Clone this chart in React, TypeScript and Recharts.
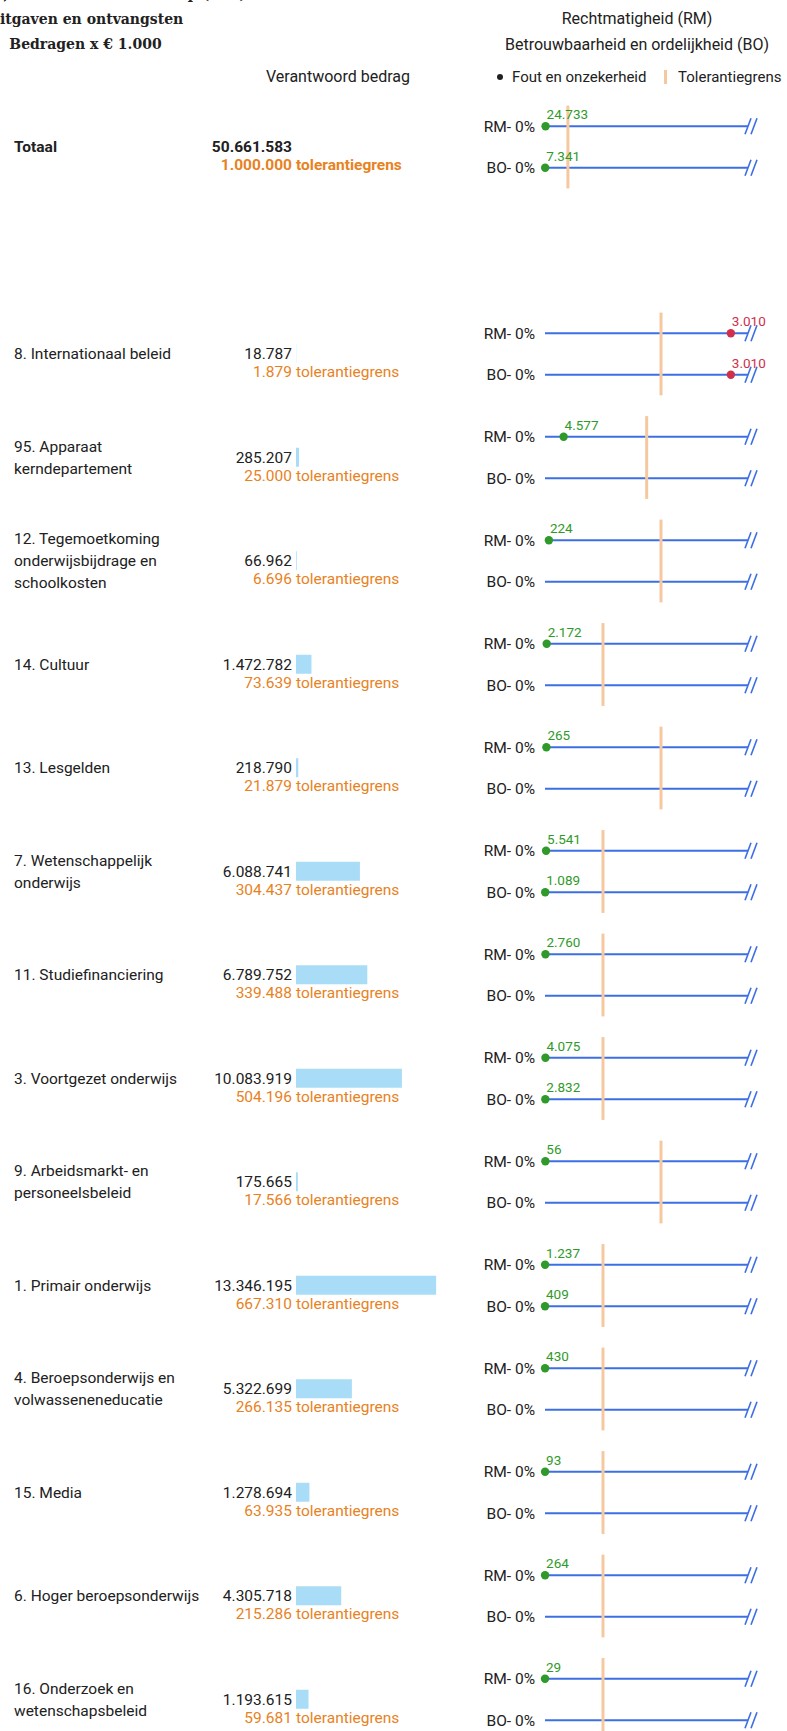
import React from "react";
import { Bar, ComposedChart, ReferenceLine, Scatter, XAxis, YAxis } from "recharts";

// slot 1 is the empty gap between the total and the articles
const labels = [
  "Totaal",
  "",
  "8. Internationaal beleid",
  "95. Apparaat|kerndepartement",
  "12. Tegemoetkoming|onderwijsbijdrage en|schoolkosten",
  "14. Cultuur",
  "13. Lesgelden",
  "7. Wetenschappelijk|onderwijs",
  "11. Studiefinanciering",
  "3. Voortgezet onderwijs",
  "9. Arbeidsmarkt- en|personeelsbeleid",
  "1. Primair onderwijs",
  "4. Beroepsonderwijs en|volwasseneneducatie",
  "15. Media",
  "6. Hoger beroepsonderwijs",
  "16. Onderzoek en|wetenschapsbeleid",
];
const amounts = [
  50661583, null, 18787, 285207, 66962, 1472782, 218790, 6088741, 6789752,
  10083919, 175665, 13346195, 5322699, 1278694, 4305718, 1193615,
];
const tolerances = [
  1000000, null, 1879, 25000, 6696, 73639, 21879, 304437, 339488, 504196,
  17566, 667310, 266135, 63935, 215286, 59681,
];
const rmErrors = [
  24733, null, 3010, 4577, 224, 2172, 265, 5541, 2760, 4075, 56, 1237, 430,
  93, 264, 29,
];
const boErrors = [
  7341, null, 3010, null, null, null, null, 1089, null, 2832, null, 409,
  null, null, null, null,
];

const PCT_MAX = 17.5;
const PITCH = 103.5;
const CHART_H = 1760;
const Y_MIN = -147 / PITCH;
const Y_MAX = Y_MIN + CHART_H / PITCH;

const BLUE = "#3d6fe4";
const ORANGE_TXT = "#e8821e";
const TOL = "#f6c8a0";
const GREEN = "#2f9a2a";
const RED = "#d0304a";
const BAR = "#a9dcf6";
const INK = "#212121";

const fmt = (n: number) => String(n).replace(/\B(?=(\d{3})+(?!\d))/g, ".");

const rows = labels.map((label, i) => ({
  key: `r${i}`,
  slot: i,
  label,
  amount: amounts[i],
  tol: tolerances[i],
  bar: i === 0 ? null : amounts[i],
  total: i === 0,
}));

const filled = rows.filter((r) => r.amount != null);

const lineYs: number[] = [];
filled.forEach((r) => lineYs.push(r.slot - 0.2, r.slot + 0.2));

const tolLines = filled.map((r) => ({
  slot: r.slot,
  pct: ((r.tol as number) / (r.amount as number)) * 100,
}));

const points: any[] = [];
filled.forEach((r) => {
  const tolPct = ((r.tol as number) / (r.amount as number)) * 100;
  [rmErrors[r.slot], boErrors[r.slot]].forEach((v, k) => {
    if (v == null) return;
    const pct = (v / (r.amount as number)) * 100;
    points.push({ x: pct, y: r.slot + (k === 0 ? -0.2 : 0.2), value: v, over: pct > tolPct });
  });
});

const breaks = lineYs.map((y) => ({ x: PCT_MAX, y }));

const LeftTick = (props: any) => {
  const row = rows.find((r) => r.key === props.payload.value);
  if (!row || row.amount == null) return null;
  const y = props.y;
  const lines = row.label.split("|");
  const y0 = y - ((lines.length - 1) * 22) / 2;
  const weight = row.total ? 700 : 400;
  return (
    <g fontSize={15.5} fontWeight={weight}>
      {lines.map((l, i) => (
        <text key={i} x={14} y={y0 + i * 22} dy="0.35em" fill={INK}>
          {l}
        </text>
      ))}
      <text x={292} y={y} dy="0.35em" textAnchor="end" fill={INK}>
        {fmt(row.amount)}
      </text>
      <text x={292} y={y + 18} dy="0.35em" textAnchor="end" fill={ORANGE_TXT}>
        {fmt(row.tol as number)}
      </text>
      <text x={296} y={y + 18} dy="0.35em" fill={ORANGE_TXT}>
        tolerantiegrens
      </text>
    </g>
  );
};

const RmBoTick = (props: any) => {
  const v = props.payload.value;
  const kind = v < Math.round(v) ? "RM" : "BO";
  return (
    <text x={props.x} y={props.y} dy="0.35em" textAnchor="end" fontSize={15.5} fill={INK}>
      {`${kind}- 0%`}
    </text>
  );
};

const BreakShape = (props: any) => {
  const { cx, cy } = props;
  return (
    <g stroke={BLUE} strokeWidth={1.6}>
      <line x1={cx - 3} y1={cy + 8} x2={cx + 3} y2={cy - 8} />
      <line x1={cx + 3} y1={cy + 8} x2={cx + 9} y2={cy - 8} />
    </g>
  );
};

const ErrorDot = (props: any) => {
  const { cx, cy } = props;
  const p = props.payload ?? props;
  const c = p.over ? RED : GREEN;
  return (
    <g>
      <circle cx={cx} cy={cy} r={4.2} fill={c} />
      <text x={cx + 1} y={cy - 7} fontSize={13.5} fill={c}>
        {fmt(p.value)}
      </text>
    </g>
  );
};

export default function App() {
  return (
    <div
      style={{
        position: "absolute",
        left: 0,
        top: 0,
        width: 787,
        height: 1731,
        overflow: "hidden",
        background: "#fff",
        fontFamily: "Roboto, sans-serif",
      }}
    >
      <div style={{ position: "absolute", left: 0, top: 0 }}>
        <ComposedChart
          layout="vertical"
          width={506}
          height={CHART_H}
          data={rows}
          margin={{ top: 95.25, right: 0, bottom: 8.75, left: 0 }}
        >
          <XAxis type="number" domain={[0, 20000000]} hide />
          <YAxis
            type="category"
            dataKey="key"
            width={296}
            interval={0}
            axisLine={false}
            tickLine={false}
            tick={LeftTick}
          />
          <Bar dataKey="bar" fill={BAR} barSize={19} isAnimationActive={false} />
        </ComposedChart>
      </div>
      <div style={{ position: "absolute", left: 400, top: 0 }}>
        <ComposedChart
          width={387}
          height={CHART_H}
          margin={{ top: 0, right: 39, bottom: 0, left: 0 }}
        >
          <XAxis type="number" dataKey="x" domain={[0, PCT_MAX]} hide />
          <YAxis
            type="number"
            dataKey="y"
            domain={[Y_MIN, Y_MAX]}
            reversed
            allowDataOverflow
            width={145}
            ticks={lineYs}
            interval={0}
            axisLine={false}
            tickLine={false}
            tickSize={0}
            tickMargin={10}
            tick={RmBoTick}
          />
          {lineYs.map((y) => (
            <ReferenceLine key={`l${y}`} y={y} stroke={BLUE} strokeWidth={2} />
          ))}
          {tolLines.map((t) => (
            <ReferenceLine
              key={`t${t.slot}`}
              segment={[
                { x: t.pct, y: t.slot - 0.4 },
                { x: t.pct, y: t.slot + 0.4 },
              ]}
              stroke={TOL}
              strokeWidth={3}
            />
          ))}
          <Scatter data={breaks} shape={BreakShape} isAnimationActive={false} />
          <Scatter data={points} shape={ErrorDot} isAnimationActive={false} />
        </ComposedChart>
      </div>
      <svg
        width={787}
        height={100}
        style={{ position: "absolute", left: 0, top: 0, overflow: "visible" }}
      >
        <g fontFamily="'DejaVu Serif', serif" fontWeight={700} fontSize={14} fill={INK} textAnchor="middle">
          <text x={85.5} y={-1}>Onderwijs, Cultuur en Wetenschap (VIII)</text>
          <text x={85.5} y={24}>Uitgaven en ontvangsten</text>
          <text x={85.5} y={49}>Bedragen x € 1.000</text>
        </g>
        <g fontFamily="Roboto, sans-serif" fill={INK}>
          <text x={338} y={82} fontSize={16} textAnchor="middle">Verantwoord bedrag</text>
          <text x={637} y={24} fontSize={16} textAnchor="middle">Rechtmatigheid (RM)</text>
          <text x={637} y={50} fontSize={16} textAnchor="middle">
            Betrouwbaarheid en ordelijkheid (BO)
          </text>
          <circle cx={500} cy={77} r={3} fill={INK} />
          <text x={512} y={82} fontSize={15}>Fout en onzekerheid</text>
          <rect x={664} y={70} width={3} height={14} fill={TOL} />
          <text x={678} y={82} fontSize={15}>Tolerantiegrens</text>
        </g>
      </svg>
    </div>
  );
}
